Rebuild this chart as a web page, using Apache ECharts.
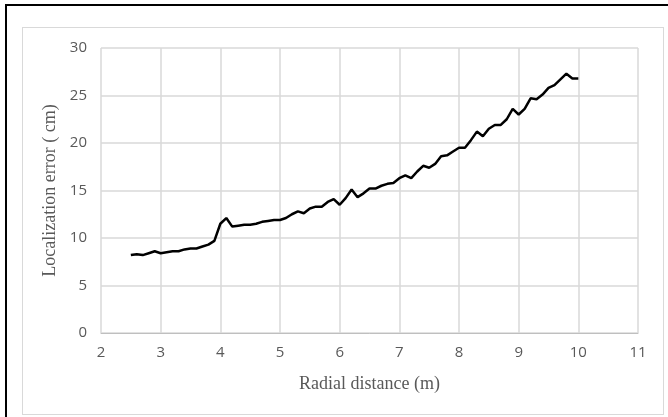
<!DOCTYPE html>
<html>
<head>
<meta charset="utf-8">
<script src="https://cdn.jsdelivr.net/npm/echarts@6/dist/echarts.min.js"></script>
<style>
  html, body { margin: 0; padding: 0; background: #fff; }
  #frameTop { position: absolute; left: 5px; top: 4px; width: 663px; height: 2px; background: #000; }
  #frameLeft { position: absolute; left: 5px; top: 4px; width: 2px; height: 413px; background: #000; }
  #box { position: absolute; left: 22px; top: 27px; width: 640px; height: 386px; border: 1px solid #d9d9d9; }
  #chart { position: absolute; left: 0; top: 0; width: 668px; height: 417px; }
</style>
</head>
<body>
<div id="frameTop"></div>
<div id="frameLeft"></div>
<div id="box"></div>
<div id="chart"></div>
<script>
// radial distance (m)
const distances = [
  2.5, 2.6, 2.7, 2.8, 2.9, 3.0, 3.1, 3.2, 3.3, 3.4, 3.5, 3.6, 3.7, 3.8, 3.9,
  4.0, 4.1, 4.2, 4.3, 4.4, 4.5, 4.6, 4.7, 4.8, 4.9, 5.0, 5.1, 5.2, 5.3, 5.4,
  5.5, 5.6, 5.7, 5.8, 5.9, 6.0, 6.1, 6.2, 6.3, 6.4, 6.5, 6.6, 6.7, 6.8, 6.9,
  7.0, 7.1, 7.2, 7.3, 7.4, 7.5, 7.6, 7.7, 7.8, 7.9, 8.0, 8.1, 8.2, 8.3, 8.4,
  8.5, 8.6, 8.7, 8.8, 8.9, 9.0, 9.1, 9.2, 9.3, 9.4, 9.5, 9.6, 9.7, 9.8, 9.9, 10.0
];
// localization error (cm)
const errors = [
  8.2, 8.3, 8.2, 8.4, 8.6, 8.4, 8.5, 8.6, 8.6, 8.8, 8.9, 8.9, 9.1, 9.3, 9.7,
  11.5, 12.1, 11.2, 11.3, 11.4, 11.4, 11.5, 11.7, 11.8, 11.9, 11.9, 12.1, 12.5, 12.8, 12.6,
  13.1, 13.3, 13.3, 13.8, 14.1, 13.5, 14.2, 15.1, 14.3, 14.7, 15.2, 15.2, 15.5, 15.7, 15.8,
  16.3, 16.6, 16.3, 17.0, 17.6, 17.4, 17.8, 18.6, 18.7, 19.1, 19.5, 19.5, 20.3, 21.2, 20.7,
  21.5, 21.9, 21.9, 22.5, 23.6, 23.0, 23.6, 24.7, 24.6, 25.1, 25.8, 26.1, 26.7, 27.3, 26.8, 26.8
];
const xTicks = { min: 2, max: 11, step: 1 };
const yTicks = { min: 0, max: 30, step: 5 };

const chart = echarts.init(document.getElementById('chart'));
const labelFont = { color: '#595959', fontSize: 15, fontFamily: 'Open Sans' };
const nameFont = { color: '#595959', fontSize: 18, fontFamily: 'Liberation Serif' };

chart.setOption({
  animation: false,
  grid: { left: 101, right: 30, top: 48, bottom: 84 },
  xAxis: {
    type: 'value',
    min: xTicks.min,
    max: xTicks.max,
    interval: xTicks.step,
    name: 'Radial distance (m)',
    nameLocation: 'middle',
    nameGap: 42,
    nameTextStyle: nameFont,
    axisLine: { show: true, lineStyle: { color: '#bfbfbf', width: 1 } },
    axisTick: { show: false },
    axisLabel: Object.assign({ margin: 12 }, labelFont),
    splitLine: { show: true, lineStyle: { color: '#d9d9d9', width: 1.5 } }
  },
  yAxis: {
    type: 'value',
    min: yTicks.min,
    max: yTicks.max,
    interval: yTicks.step,
    name: 'Localization error ( cm)',
    nameLocation: 'middle',
    nameGap: 37,
    nameTextStyle: nameFont,
    axisLine: { show: false },
    axisTick: { show: false },
    axisLabel: Object.assign({ margin: 14 }, labelFont),
    splitLine: { show: true, lineStyle: { color: '#d9d9d9', width: 1.5 } }
  },
  series: [{
    type: 'line',
    data: distances.map((d, i) => [d, errors[i]]),
    showSymbol: false,
    lineStyle: { color: '#000', width: 2.5 },
    itemStyle: { color: '#000' }
  }]
});
</script>
</body>
</html>
